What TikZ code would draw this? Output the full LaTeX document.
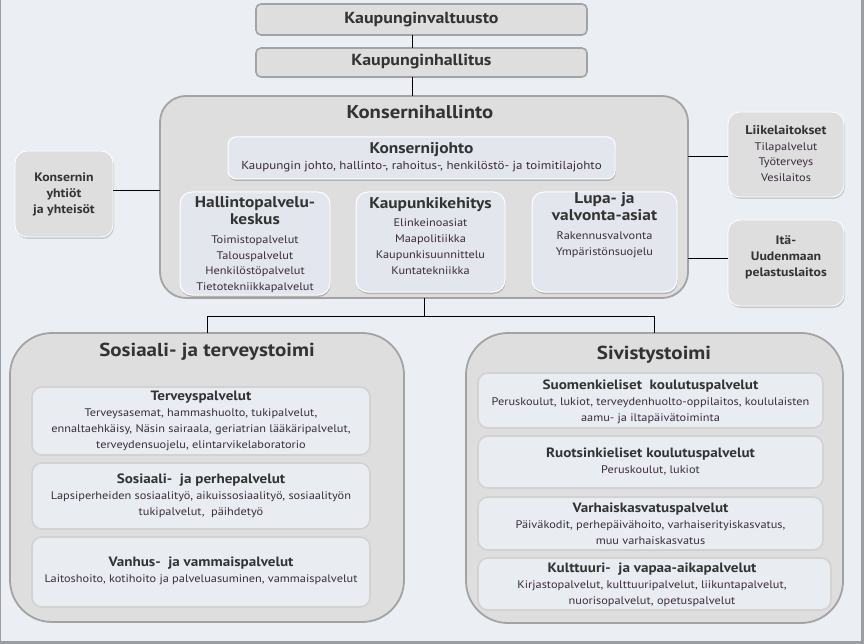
\documentclass[tikz,border=0pt]{standalone}
\usepackage{fontspec}
\setmainfont{PT Sans}[FakeStretch=1.12]
\usetikzlibrary{shadows}
\definecolor{bg}{HTML}{EBEFF3}
\definecolor{outerfill}{HTML}{DEDEDE}
\definecolor{outerline}{HTML}{A3A3A3}
\definecolor{innerfill}{HTML}{E9EDF2}
\definecolor{innerline}{HTML}{D2D2D2}
\definecolor{subfill}{HTML}{E3E6ED}
\definecolor{ttl}{HTML}{333333}
\definecolor{itm}{HTML}{3A2C3C}
\definecolor{frame}{HTML}{9A9DA2}
\tikzset{
  box/.style={anchor=north west, inner sep=0pt, outer sep=0pt},
  topbox/.style={box, fill=outerfill, draw=outerline, line width=1.6pt, rounded corners=5pt},
  bigbox/.style={box, fill=outerfill, draw=outerline, line width=1.8pt},
  sidebox/.style={box, fill=outerfill, draw=white, line width=0.8pt, rounded corners=12pt,
     drop shadow={shadow xshift=1pt, shadow yshift=-2pt, fill=black!35, opacity=0.5}},
  subbox/.style={box, fill=subfill, draw=white, line width=1pt, rounded corners=12pt,
     drop shadow={shadow xshift=0.5pt, shadow yshift=-2pt, fill=black!45, opacity=0.5}},
  inbox/.style={box, fill=innerfill, draw=innerline, line width=1.6pt, rounded corners=10pt},
  ttlA/.style={font=\fontsize{18.5}{20}\selectfont\bfseries, text=ttl, inner sep=0pt},
  ttlB/.style={font=\fontsize{15.5}{17}\selectfont\bfseries, text=ttl, inner sep=0pt, align=center},
  ttlS/.style={font=\fontsize{12.3}{16}\selectfont\bfseries, text=ttl, inner sep=0pt, align=center},
  itmT/.style={font=\fontsize{11}{16}\selectfont, text=itm, inner sep=0pt, align=center},
  conn/.style={draw=black, line width=1pt},
}
\newcommand{\hd}[1]{\textcolor{ttl}{\fontsize{13.5}{16}\selectfont\bfseries #1}}
\begin{document}
\begin{tikzpicture}[x=1pt,y=-1pt]
\fill[bg] (0,0) rectangle (864,644);
\useasboundingbox (0,0) rectangle (864,644);
\draw[frame, line width=1pt] (0.5,0) -- (0.5,643);
\draw[frame, line width=2.5pt] (0,642.5) -- (864,642.5);
\draw[frame, line width=2.5pt] (862.5,0) -- (862.5,644);

% top boxes
\node[topbox, minimum width=331pt, minimum height=31pt] (kv) at (256,4) {};
\node[ttlB, font=\fontsize{16}{17}\selectfont\bfseries] (kvt) at (421.5,19.5) {Kaupunginvaltuusto};
\node[topbox, minimum width=331pt, minimum height=29pt] (kh) at (256,48) {};
\node[ttlB, font=\fontsize{16}{17}\selectfont\bfseries] (kht) at (421.5,62) {Kaupunginhallitus};

% Konsernihallinto
\node[bigbox, rounded corners=26pt, minimum width=528pt, minimum height=202pt] (kon) at (160,96) {};
\node[ttlA] (kont) at (420,112) {Konsernihallinto};
\node[subbox, rounded corners=8pt, minimum width=387pt, minimum height=42pt] (kj) at (228,137) {};
\node[ttlB] (kjt) at (421.5,150) {Konsernijohto};
\node[itmT, font=\fontsize{11.6}{16}\selectfont] (kjs) at (421.5,167) {Kaupungin johto, hallinto-, rahoitus-, henkilöstö- ja toimitilajohto};

\node[subbox, minimum width=150pt, minimum height=103pt] (hpk) at (180,192) {};
\node[ttlB, anchor=north, font=\fontsize{15.5}{17.5}\selectfont\bfseries] (hpkt) at (255,196) {Hallintopalvelu-\\keskus};
\node[itmT, anchor=north, font=\fontsize{11}{15.5}\selectfont] (hpki) at (255,236) {Toimistopalvelut\\Talouspalvelut\\Henkilöstöpalvelut\\Tietotekniikkapalvelut};

\node[subbox, minimum width=149pt, minimum height=100pt] (kk) at (356,192) {};
\node[ttlB] (kkt) at (430.5,205) {Kaupunkikehitys};
\node[itmT, anchor=north] (kki) at (430.5,219) {Elinkeinoasiat\\Maapolitiikka\\Kaupunkisuunnittelu\\Kuntatekniikka};

\node[subbox, minimum width=145pt, minimum height=100pt] (lv) at (532,192) {};
\node[ttlB, anchor=north, font=\fontsize{15.5}{17.5}\selectfont\bfseries] (lvt) at (604.5,192) {Lupa- ja\\valvonta-asiat};
\node[itmT, anchor=north] (lvi) at (604.5,232) {Rakennusvalvonta\\Ympäristönsuojelu};

% side boxes
\node[sidebox, minimum width=98pt, minimum height=86pt] (ky) at (15,151) {};
\node[ttlS] (kyt) at (64,194.5) {Konsernin\\yhtiöt\\ja yhteisöt};
\node[sidebox, minimum width=116pt, minimum height=85pt] (ll) at (728,112) {};
\node[itmT, font=\fontsize{11}{15.7}\selectfont] (llt) at (786,153.5) {\textcolor{ttl}{\fontsize{12.6}{15.7}\selectfont\bfseries Liikelaitokset}\\Tilapalvelut\\Työterveys\\Vesilaitos};
\node[sidebox, minimum width=116pt, minimum height=86pt] (iu) at (728,220) {};
\node[ttlS] (iut) at (786,257) {Itä-\\Uudenmaan\\pelastuslaitos};

% Sosiaali- ja terveystoimi
\node[bigbox, rounded corners=42pt, minimum width=394pt, minimum height=289pt] (st) at (10,333) {};
\node[ttlA, font=\fontsize{18.8}{20}\selectfont\bfseries] (stt) at (207,352) {Sosiaali- ja terveystoimi};
\node[inbox, minimum width=338pt, minimum height=68pt] (tp) at (32,387) {};
\node[itmT] (tpt) at (201,421) {\hd{Terveyspalvelut}\\Terveysasemat, hammashuolto, tukipalvelut,\\ennaltaehkäisy, Näsin sairaala, geriatrian lääkäripalvelut,\\terveydensuojelu, elintarvikelaboratorio};
\node[inbox, minimum width=338pt, minimum height=66pt] (spp) at (32,463) {};
\node[itmT] (sppt) at (201,496) {\hd{Sosiaali-\ \ ja perhepalvelut}\\Lapsiperheiden sosiaalityö, aikuissosiaalityö, sosiaalityön\\tukipalvelut,\ \ päihdetyö};
\begin{scope}
\clip[rounded corners=42pt] (10,333) rectangle (404,622);
\node[inbox, minimum width=338pt, minimum height=70pt] (vv) at (32,537) {};
\end{scope}
\node[itmT] (vvt) at (201,570.5) {\hd{Vanhus-\ \ ja vammaispalvelut}\\Laitoshoito, kotihoito ja palveluasuminen, vammaispalvelut};

% Sivistystoimi
\node[bigbox, rounded corners=42pt, minimum width=377pt, minimum height=290pt] (sv) at (466,333) {};
\node[ttlA, font=\fontsize{18.8}{20}\selectfont\bfseries] (svt) at (654,355) {Sivistystoimi};
\node[inbox, minimum width=345pt, minimum height=55pt] (sk) at (478,373) {};
\node[itmT] (skt) at (650.5,401.5) {\hd{Suomenkieliset\ \ koulutuspalvelut}\\Peruskoulut, lukiot, terveydenhuolto-oppilaitos, koululaisten\\aamu- ja iltapäivätoiminta};
\node[inbox, minimum width=345pt, minimum height=52pt] (rk) at (478,436) {};
\node[itmT] (rkt) at (650.5,462) {\hd{Ruotsinkieliset koulutuspalvelut}\\Peruskoulut, lukiot};
\node[inbox, minimum width=345pt, minimum height=53pt] (vk) at (478,497) {};
\node[itmT] (vkt) at (650.5,524) {\hd{Varhaiskasvatuspalvelut}\\Päiväkodit, perhepäivähoito, varhaiserityiskasvatus,\\muu varhaiskasvatus};
\begin{scope}
\clip[rounded corners=42pt] (466,333) rectangle (843,623);
\node[inbox, minimum width=353pt, minimum height=52pt] (kv2) at (478,558) {};
\end{scope}
\node[itmT] (kv2t) at (652,585) {\hd{Kulttuuri-\ \ ja vapaa-aikapalvelut}\\Kirjastopalvelut, kulttuuripalvelut, liikuntapalvelut,\\nuorisopalvelut, opetuspalvelut};

% connectors
\coordinate (cx) at (412,0);
\coordinate (bx) at (424,316);
\draw[conn] (kv.south -| cx) -- (kh.north -| cx);
\draw[conn] (kh.south -| cx) -- (kon.north -| cx);
\draw[conn] (ky.east |- 0,191) -- (kon.west |- 0,191);
\draw[conn] (kon.east |- 0,157) -- (ll.west |- 0,157);
\draw[conn] (kon.east |- 0,259) -- (iu.west |- 0,259);
\draw[conn] (kon.south -| bx) -- (bx);
\draw[conn] (st.north) -- (st.north |- bx) -- (sv.north |- bx) -- (sv.north);
\end{tikzpicture}
\end{document}
